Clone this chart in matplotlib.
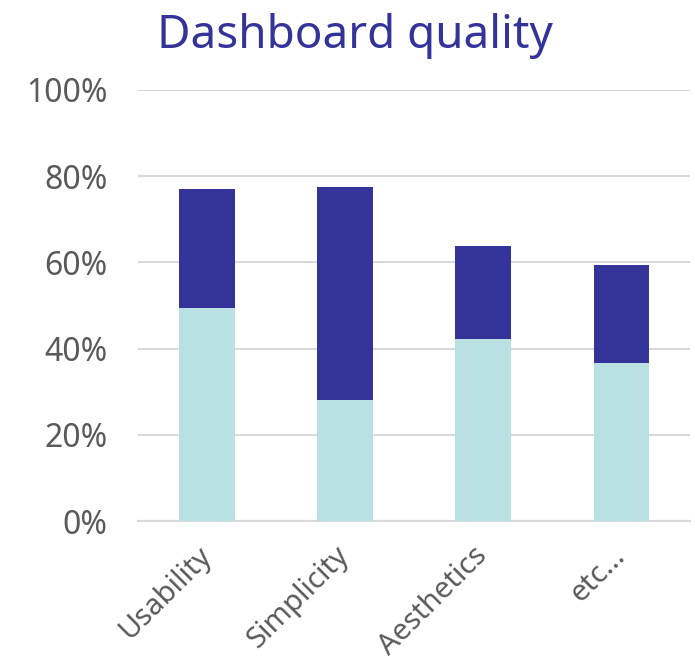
import matplotlib.pyplot as plt
import numpy as np

plt.rcParams['font.family'] = ['Noto Sans', 'DejaVu Sans']

# Data (percent)
categories = ['Usability', 'Simplicity', 'Aesthetics', 'etc...']
lower = [49.4, 28.1, 42.2, 36.7]
upper = [27.6, 49.4, 21.6, 22.7]

light = '#B9E0E3'
dark = '#333399'
grey = '#595959'

fig = plt.figure(figsize=(6.95, 6.69), dpi=100)
ax = fig.add_axes([0.1986, 0.2212, 0.7944, 0.6443])

x = np.arange(len(categories))
ax.bar(x, lower, width=0.4, color=light, zorder=3)
ax.bar(x, upper, width=0.4, bottom=lower, color=dark, zorder=3)

ax.set_xlim(-0.5, 3.5)
ax.set_ylim(0, 100)
ax.set_yticks(range(0, 101, 20))
ax.set_yticklabels([f'{v}%' for v in range(0, 101, 20)], fontsize=23, color=grey)
ax.set_xticks(x)
ax.set_xticklabels(categories, fontsize=21, color=grey, rotation=45,
                   ha='right', va='center', rotation_mode='anchor')
ax.tick_params(length=0)
ax.tick_params(axis='y', pad=22)
ax.tick_params(axis='x', pad=22)
ax.grid(axis='y', color='#D9D9D9', linewidth=1.5, zorder=0)
for s in ['top', 'right', 'left']:
    ax.spines[s].set_visible(False)
ax.spines['bottom'].set_color('#D9D9D9')
ax.spines['bottom'].set_linewidth(1.5)

fig.text(355 / 695, 1 - 48 / 669, 'Dashboard quality', fontsize=33, color=dark,
         ha='center', va='baseline')

fig.savefig('out.png', dpi=100)
